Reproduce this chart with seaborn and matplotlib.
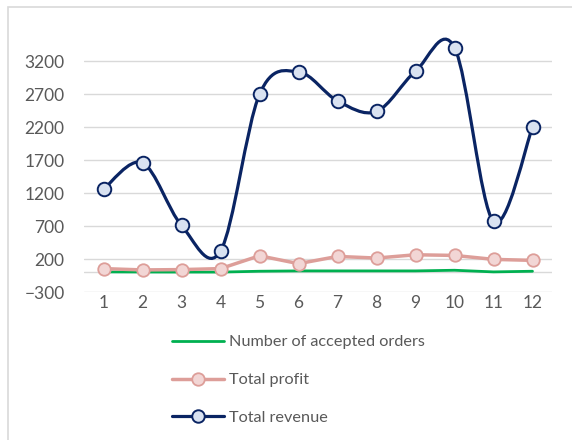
import numpy as np
import pandas as pd
import matplotlib
matplotlib.use("Agg")
import matplotlib.pyplot as plt
from matplotlib.path import Path
from matplotlib.patches import PathPatch, Rectangle
from matplotlib.lines import Line2D
import seaborn as sns

sns.set_theme(style="whitegrid")
plt.rcParams['font.family'] = ['Lato', 'DejaVu Sans']

# values
months = [1, 2, 3, 4, 5, 6, 7, 8, 9, 10, 11, 12]
accepted_orders = [5, 3, 2, 2, 15, 20, 20, 20, 20, 30, 5, 15]
total_profit = [55, 35, 40, 55, 250, 130, 240, 215, 265, 255, 195, 180]
total_revenue = [1260, 1660, 710, 320, 2700, 3040, 2600, 2440, 3050, 3410, 770, 2200]
y_ticks = [-300, 200, 700, 1200, 1700, 2200, 2700, 3200]

df = pd.DataFrame({'month': months, 'orders': accepted_orders,
                   'profit': total_profit, 'revenue': total_revenue})

green = '#00b050'
pink = '#dd9e99'
pink_face = '#f2d6d5'
navy = '#0a2463'
navy_face = '#d9e2f1'
gray_text = '#595959'
grid = '#d9d9d9'

fig = plt.figure(figsize=(5.72, 4.40), dpi=100)
ax = fig.add_axes([84 / 572, 1 - 292 / 440, 468 / 572, 257 / 440])

# outer chart border
fig.patches.append(Rectangle((8 / 572, -0.1), 1.2, 1 - 7 / 440 + 0.1, transform=fig.transFigure,
                             fill=False, edgecolor='#d9d9d9', lw=1.2))

sns.lineplot(data=df, x='month', y='orders', color=green, lw=2, ax=ax, zorder=3)
sns.lineplot(data=df, x='month', y='profit', color=pink, lw=2.5, marker='o', markersize=9,
             markerfacecolor=pink_face, markeredgecolor=pink, markeredgewidth=1.3, ax=ax, zorder=4)

# smoothed revenue line (excel-style bezier through the points)
pts = df[['month', 'revenue']].to_numpy(dtype=float)
verts = [pts[0]]
codes = [Path.MOVETO]
for i in range(len(pts) - 1):
    p0 = pts[i - 1] if i > 0 else pts[i]
    p1, p2 = pts[i], pts[i + 1]
    p3 = pts[i + 2] if i + 2 < len(pts) else pts[i + 1]
    verts += [p1 + (p2 - p0) / 6, p2 - (p3 - p1) / 6, p2]
    codes += [Path.CURVE4] * 3
ax.add_patch(PathPatch(Path(verts, codes), fill=False, edgecolor=navy, lw=2.3, zorder=5))
sns.scatterplot(data=df, x='month', y='revenue', s=95, color=navy_face, edgecolor=navy,
                linewidth=1.4, ax=ax, zorder=6)

ax.set_xlim(0.5, 12.5)
ax.set_ylim(-300, 3600)
ax.set_xticks(months)
ax.set_yticks(y_ticks)
ax.set_xlabel('')
ax.set_ylabel('')
ax.grid(axis='x', visible=False)
ax.grid(axis='y', color=grid, lw=1)
ax.axhline(0, color=grid, lw=1, zorder=1)
for s in ax.spines.values():
    s.set_visible(False)
ax.tick_params(axis='y', length=0, pad=14, labelsize=12.5, labelcolor=gray_text)
ax.tick_params(axis='x', length=0, pad=2, labelsize=12.5, labelcolor=gray_text)

handles = [
    Line2D([], [], color=green, lw=2),
    Line2D([], [], color=pink, lw=2.5, marker='o', markersize=9, markerfacecolor=pink_face,
           markeredgecolor=pink, markeredgewidth=1.3),
    Line2D([], [], color=navy, lw=2.3, marker='o', markersize=9, markerfacecolor=navy_face,
           markeredgecolor=navy, markeredgewidth=1.4),
]
labels = ['Number of accepted orders', 'Total profit', 'Total revenue']
leg = fig.legend(handles, labels, loc='center left', bbox_to_anchor=(172 / 572, 1 - 380 / 440),
                 frameon=False, fontsize=11.7, handlelength=3.2, handletextpad=0.3,
                 labelspacing=1.45, borderpad=0, borderaxespad=0)
for t in leg.get_texts():
    t.set_color(gray_text)

fig.savefig('out.png', dpi=100)
